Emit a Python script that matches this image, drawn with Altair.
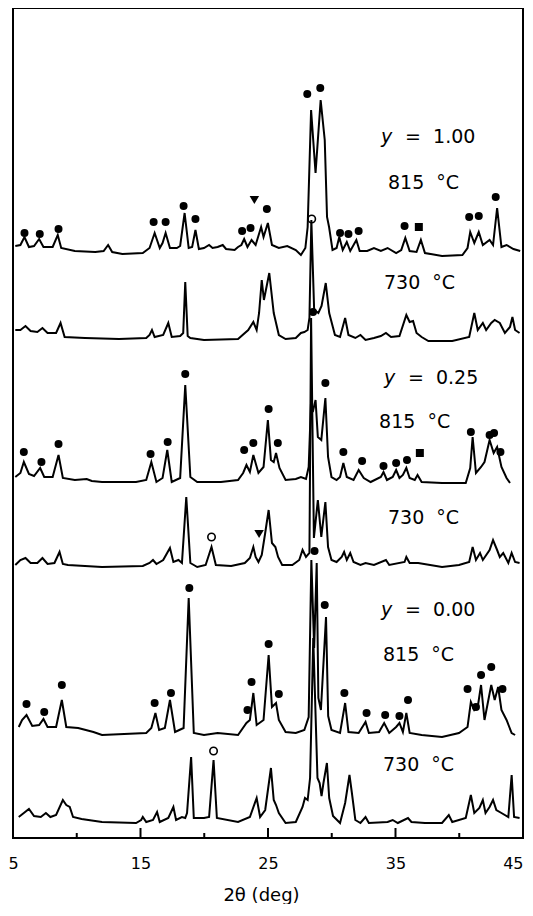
import altair as alt
import pandas as pd

# ---- XRD traces: 2theta (deg) and offset intensity (a.u.) ----
t1_theta = [5.18,5.58,5.90,6.25,6.65,7.05,7.39,8.11,8.51,8.78,9.85,11.45,12.11,12.46,12.78,13.58,15.18,15.71,16.11,16.51,16.73,16.97,17.31,17.85,18.11,18.46,18.78,19.05,19.31,19.58,19.98,20.38,20.65,21.05,21.45,21.71,22.38,22.65,22.91,23.13,23.39,23.71,24.03,24.46,24.65,24.99,25.31,25.85,26.51,27.18,27.58,27.93,28.11,28.38,28.73,29.13,29.45,29.63,29.79,30.06,30.38,30.59,30.86,31.18,31.45,31.93,32.19,32.78,33.31,33.85,34.38,35.05,35.45,35.77,36.11,36.65,36.99,37.31,38.65,40.25,40.65,40.86,41.18,41.53,41.85,42.38,42.65,42.97,43.31,43.71,44.25,44.78]
t1_int = [592,593,601,591,592,599,591,591,603,590,587,586,587,593,586,584,585,590,605,590,595,605,590,590,592,625,590,591,608,589,590,593,590,591,593,589,588,591,593,599,591,598,593,611,601,615,593,590,592,588,583,590,611,728,665,738,698,621,611,588,590,601,588,596,587,598,587,587,590,587,590,585,588,600,587,586,598,585,582,583,590,606,595,606,593,598,593,630,591,593,589,587]

t2_theta = [5.18,5.58,5.98,6.38,6.91,7.31,7.71,8.38,8.73,9.05,10.65,13.31,15.45,15.71,15.90,16.11,16.78,17.18,17.45,18.11,18.35,18.51,18.70,18.91,19.98,22.65,23.45,23.85,24.11,24.30,24.51,24.68,25.10,25.45,25.85,26.38,27.18,27.58,27.85,28.11,28.25,28.40,28.62,28.95,29.20,29.53,29.80,30.25,30.65,31.05,31.31,31.85,32.25,32.65,33.31,33.85,34.25,34.65,35.31,35.85,36.11,36.38,36.65,37.05,37.58,39.45,40.78,41.18,41.45,41.85,42.11,42.51,42.78,43.18,43.58,43.98,44.17,44.38,44.73]
t2_int = [508,508,512,507,506,510,505,505,515,501,500,499,500,503,508,501,503,515,501,502,505,556,502,500,498,499,508,516,508,525,558,538,565,525,503,499,500,505,506,508,520,618,528,525,532,555,525,503,501,520,503,500,503,498,500,502,505,501,502,523,516,517,505,501,497,497,501,525,508,515,508,515,518,515,505,511,521,508,505]

t3_theta = [5.18,5.58,5.85,6.25,6.65,7.13,7.45,8.11,8.57,8.91,9.85,10.78,11.18,11.98,14.65,15.45,15.85,16.25,16.73,17.10,17.45,18.11,18.51,18.91,19.45,21.31,22.65,23.05,23.31,23.58,23.85,24.25,24.65,24.99,25.23,25.45,25.63,25.90,26.38,27.18,27.58,27.98,28.19,28.38,28.51,28.73,28.91,29.18,29.50,29.71,29.98,30.38,30.65,30.91,31.18,31.71,32.11,32.51,33.05,33.85,34.06,34.33,34.78,35.05,35.31,35.58,35.85,36.11,36.51,36.73,37.05,38.65,40.51,40.86,41.05,41.31,41.71,41.98,42.38,42.70,42.97,43.31,43.71,43.98]
t3_int = [361,365,376,364,362,370,361,361,383,360,358,359,357,356,356,358,376,356,360,388,356,360,453,361,356,356,358,365,373,366,383,365,371,418,378,376,385,370,358,359,361,359,371,438,426,438,401,398,440,381,361,358,361,375,361,358,368,360,356,361,366,358,361,368,360,363,370,360,358,363,356,355,355,370,401,365,371,376,398,385,391,371,360,355]

t4_theta = [5.18,5.58,5.98,6.38,6.91,7.31,7.71,8.25,8.65,8.91,9.31,11.98,15.18,15.71,15.98,16.25,16.78,17.31,17.58,17.98,18.25,18.59,18.91,19.45,20.11,20.57,20.91,22.11,23.18,23.58,23.85,24.03,24.25,24.51,24.78,25.05,25.31,25.58,25.79,26.11,26.91,27.45,27.71,27.98,28.25,28.38,28.60,28.91,29.18,29.50,29.71,29.98,30.38,30.78,30.97,31.18,31.45,31.71,32.25,32.65,33.31,34.25,34.51,35.71,35.85,36.11,36.78,38.65,39.98,40.78,41.05,41.31,41.63,41.85,42.38,42.65,42.97,43.18,43.45,43.85,44.11,44.38,44.73]
t4_int = [273,278,280,275,275,280,274,275,286,274,273,271,272,275,278,274,278,290,276,278,275,341,275,271,273,291,273,272,275,280,291,281,276,283,305,328,295,291,281,273,273,278,288,281,285,520,300,338,301,336,291,278,276,281,286,278,285,276,273,275,273,278,273,276,281,275,275,271,273,276,291,278,285,278,288,298,288,281,285,275,285,276,275]

t5_theta = [5.45,5.71,6.06,6.51,7.05,7.39,7.71,8.38,8.83,9.18,10.11,11.31,11.98,15.45,15.85,16.17,16.46,16.91,17.31,17.71,18.38,18.78,19.18,19.98,21.05,22.65,23.31,23.58,23.85,24.11,24.65,25.05,25.31,25.63,25.85,26.38,27.18,27.85,28.19,28.40,28.62,28.82,28.95,29.15,29.55,29.72,29.98,30.65,31.05,31.31,32.11,32.65,32.91,33.71,34.11,34.51,35.05,35.31,35.58,35.85,36.11,37.05,38.65,39.98,40.65,40.91,41.18,41.45,41.71,41.98,42.51,42.78,43.05,43.31,43.71,44.11,44.38]
t5_int = [111,118,123,112,113,119,111,111,138,111,110,106,103,105,110,125,108,110,138,106,110,240,105,103,105,103,115,118,145,113,118,183,131,135,118,106,105,108,121,278,190,275,140,128,221,122,108,105,135,106,105,116,105,106,115,105,111,115,106,125,105,103,101,105,111,136,128,131,153,118,153,138,151,128,118,105,103]

t6_theta = [5.45,5.85,6.25,6.65,7.18,7.58,7.93,8.38,8.91,9.18,9.45,9.71,10.38,11.98,14.65,15.05,15.18,15.45,15.98,16.30,16.51,17.18,17.58,17.79,18.25,18.51,18.65,18.97,19.18,19.98,20.38,20.73,20.99,22.65,23.58,24.11,24.38,24.78,25.23,25.45,25.63,25.85,26.38,27.18,27.71,27.90,28.11,28.30,28.55,28.88,29.05,29.20,29.35,29.62,29.80,30.10,30.65,31.05,31.39,31.58,31.85,32.25,32.65,32.91,34.38,34.78,35.18,35.98,36.25,37.31,38.65,39.18,39.45,40.51,40.91,41.18,41.58,41.85,42.06,42.38,42.65,42.91,43.31,43.85,44.11,44.30,44.73]
t6_int = [21,25,29,22,21,25,21,23,38,33,31,21,19,16,15,18,21,16,18,26,16,20,31,18,21,20,25,81,20,20,21,78,20,16,21,40,21,28,70,38,33,25,15,16,31,40,38,60,200,60,55,42,55,75,40,22,15,35,63,45,18,15,21,15,16,18,15,20,16,15,15,23,16,20,43,25,30,38,25,31,38,28,25,21,63,21,20]

# ---- phase markers ----
dot_theta = [5.90,7.10,8.57,16.03,16.97,18.38,19.31,22.97,23.63,24.91,28.08,29.10,30.65,31.31,32.11,35.71,40.78,41.53,42.86,
             5.85,7.23,8.57,15.79,17.13,18.51,23.13,23.85,25.05,25.77,28.53,29.50,30.91,32.38,34.06,35.05,35.90,40.91,42.38,42.73,43.23,
             6.06,7.45,8.83,16.11,17.39,18.83,23.39,23.71,25.05,25.85,28.65,29.45,30.99,32.73,34.19,35.31,35.98,40.65,41.31,41.71,42.51,43.39]
dot_int = [605,604,609,616,616,632,619,607,610,629,744,750,605,604,607,612,621,622,641,
           386,376,394,384,396,464,388,395,429,395,526,455,386,377,372,375,378,406,403,405,386,
           134,126,153,135,145,250,128,156,194,144,287,233,145,125,123,122,138,149,131,163,171,149]
square_theta = [36.83, 36.91]
square_int = [611, 385]
tri_theta = [23.93, 24.30]
tri_int = [638, 304]
ring_theta = [28.43, 20.57, 20.73]
ring_int = [619, 301, 87]

# ---- annotations ----
ylab_theta = [33.86, 34.10, 33.86]
ylab_int = [701, 460, 228]
ylab_val = ["=\u00a0\u00a01.00", "=\u00a0\u00a00.25", "=\u00a0\u00a00.00"]
eq_theta = [35.75, 35.98, 35.75]
temp_text = ["815\u00a0\u00a0°C", "730\u00a0\u00a0°C", "815\u00a0\u00a0°C", "730\u00a0\u00a0°C", "815\u00a0\u00a0°C", "730\u00a0\u00a0°C"]
temp_theta = [34.41, 34.10, 33.71, 34.41, 34.02, 34.02]
temp_int = [655, 555, 416, 320, 183, 73]

axis_labels = [5, 15, 25, 35, 45]
major_ticks = [15, 25, 35]
minor_ticks = [10, 20, 30, 40]

traces = [(t1_theta, t1_int), (t2_theta, t2_int), (t3_theta, t3_int),
          (t4_theta, t4_int), (t5_theta, t5_int), (t6_theta, t6_int)]
rows = []
for k, (th, it) in enumerate(traces):
    for j, (a, b) in enumerate(zip(th, it)):
        rows.append({"trace": k, "idx": j, "theta": a, "inten": b})
df = pd.DataFrame(rows)

X = alt.X("theta:Q", scale=alt.Scale(domain=[5, 45], nice=False, zero=False),
          axis=alt.Axis(values=axis_labels, title="2θ (deg)", grid=False,
                        ticks=False, domain=False, labelFontSize=16, labelFont="DejaVu Sans",
                        labelColor="black", labelPadding=17,
                        labelAlign=alt.ExprRef("datum.value == 45 ? 'right' : 'center'"),
                        titleFont="DejaVu Sans",
                        titleFontSize=18, titleFontWeight="normal", titleColor="black",
                        titleX=248, titleY=62, titleBaseline="alphabetic"))
Y = alt.Y("inten:Q", scale=alt.Scale(domain=[0, 830], nice=False, zero=False), axis=None)

lines = alt.Chart(df).mark_line(color="black", strokeWidth=2).encode(
    x=X, y=Y, detail="trace:N", order="idx:Q")

def pts(th, it):
    return pd.DataFrame({"theta": th, "inten": it})

dots = alt.Chart(pts(dot_theta, dot_int)).mark_point(
    shape="circle", filled=True, color="black", size=64, opacity=1).encode(x="theta:Q", y="inten:Q")
squares = alt.Chart(pts(square_theta, square_int)).mark_point(
    shape="square", filled=True, color="black", size=64, opacity=1).encode(x="theta:Q", y="inten:Q")
tris = alt.Chart(pts(tri_theta, tri_int)).mark_point(
    shape="triangle-down", filled=True, color="black", size=90, opacity=1).encode(x="theta:Q", y="inten:Q")
rings = alt.Chart(pts(ring_theta, ring_int)).mark_point(
    shape="circle", filled=False, color="black", size=55, strokeWidth=1.6, opacity=1).encode(x="theta:Q", y="inten:Q")

tick_major = alt.Chart(pd.DataFrame({"theta": major_ticks})).mark_rule(color="black", strokeWidth=2).encode(
    x="theta:Q", y=alt.value(830), y2=alt.value(820))
tick_minor = alt.Chart(pd.DataFrame({"theta": minor_ticks})).mark_rule(color="black", strokeWidth=2).encode(
    x="theta:Q", y=alt.value(830), y2=alt.value(825))

ylabs = alt.Chart(pd.DataFrame({"theta": ylab_theta, "inten": ylab_int})).mark_text(
    text="y", fontStyle="italic", font="DejaVu Sans", fontSize=19, align="left", baseline="middle",
    color="black").encode(x="theta:Q", y="inten:Q")
yvals = alt.Chart(pd.DataFrame({"theta": eq_theta, "inten": ylab_int, "t": ylab_val})).mark_text(
    font="DejaVu Sans", fontSize=19, align="left", baseline="middle", color="black").encode(
    x="theta:Q", y="inten:Q", text="t:N")
temps = alt.Chart(pd.DataFrame({"theta": temp_theta, "inten": temp_int, "t": temp_text})).mark_text(
    font="DejaVu Sans", fontSize=19, align="left", baseline="middle", color="black").encode(
    x="theta:Q", y="inten:Q", text="t:N")

chart = alt.layer(lines, tick_major, tick_minor, dots, squares, tris, rings, ylabs, yvals, temps).properties(
    width=510, height=830,
    autosize=alt.AutoSizeParams(type="none"),
    padding={"left": 5, "top": 0, "right": 2, "bottom": 66},
    background="white",
).configure_view(stroke="black", strokeWidth=2)

chart.save("out.html", embed_options={"renderer": "svg", "actions": False})
